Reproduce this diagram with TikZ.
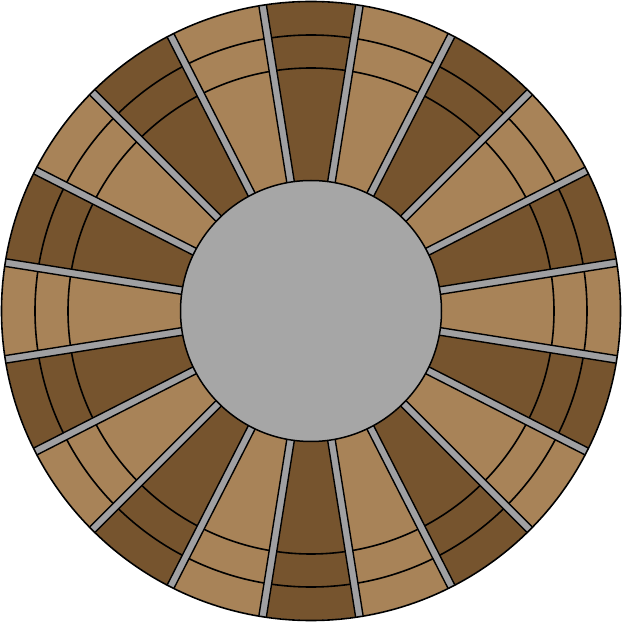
\documentclass[tikz,border=0pt]{standalone}
\definecolor{lighttan}{RGB}{168,131,88}
\definecolor{darktan}{RGB}{118,84,46}
\definecolor{paver}{RGB}{166,166,166}
\definecolor{joint}{RGB}{160,160,162}
\begin{document}
\begin{tikzpicture}[x=1pt,y=1pt,line join=round]
\useasboundingbox (0,0) rectangle (622,622);
\begin{scope}[shift={(311,311)}]
\foreach \k in {0,...,19}{
  \pgfmathsetmacro\a{18*\k-9}
  \pgfmathsetmacro\b{18*\k+9}
  \pgfmathtruncatemacro\odd{mod(\k,2)}
  \ifnum\odd=1 \def\col{darktan}\else\def\col{lighttan}\fi
  \fill[\col] (\a:128) -- (\a:309) arc[start angle=\a,end angle=\b,radius=309] -- (\b:128) arc[start angle=\b,end angle=\a,radius=128] -- cycle;
}
\draw[line width=1.6] (0,0) circle (276) (0,0) circle (243);
\begin{scope}
\clip (0,0) circle (309);
\foreach \k in {0,...,19}{
  \draw[fill=joint,line width=1.4,rotate=18*\k+9] (120,-3.8) rectangle (320,3.8);
}
\end{scope}
\draw[line width=1.6] (0,0) circle (309.5);
\filldraw[fill=paver,line width=1.5] (0,0) circle (130.5);
\end{scope}
\end{tikzpicture}
\end{document}
